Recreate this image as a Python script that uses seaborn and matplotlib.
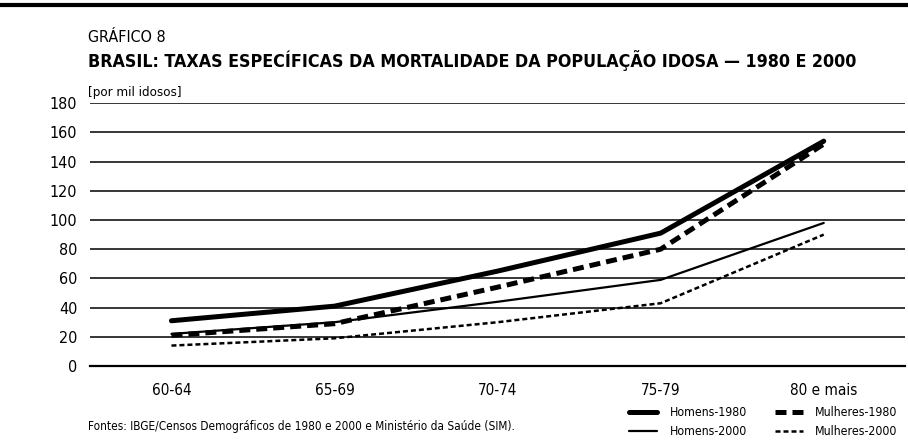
import matplotlib.pyplot as plt
import pandas as pd
import seaborn as sns

faixas = ["60-64", "65-69", "70-74", "75-79", "80 e mais"]
homens_1980 = [31, 41, 65, 91, 154]
mulheres_1980 = [21, 29, 54, 80, 152]
homens_2000 = [22, 30, 44, 59, 98]
mulheres_2000 = [14, 19, 30, 43, 90]

series = {
    "Homens-1980": homens_1980,
    "Mulheres-1980": mulheres_1980,
    "Homens-2000": homens_2000,
    "Mulheres-2000": mulheres_2000,
}
estilos = {
    "Homens-1980": dict(lw=3.6, dashes=None),
    "Mulheres-1980": dict(lw=3.6, dashes=(2.2, 1.2)),
    "Homens-2000": dict(lw=1.6, dashes=None),
    "Mulheres-2000": dict(lw=1.8, dashes=(2.0, 1.2)),
}

df = pd.DataFrame(
    [(nome, i, v) for nome, vals in series.items() for i, v in enumerate(vals)],
    columns=["serie", "pos", "taxa"],
)

sns.set_style("white")
plt.rcParams["font.family"] = ["DejaVu Sans"]
plt.rcParams["font.stretch"] = "condensed"
plt.rcParams["text.color"] = "black"
plt.rcParams["xtick.color"] = "black"
plt.rcParams["ytick.color"] = "black"

fig = plt.figure(figsize=(9.08, 4.41), dpi=100)
ax = fig.add_axes([0.099, 0.170, 0.898, 0.596])

for nome in series:
    sub = df[df["serie"] == nome]
    st = estilos[nome]
    line = sns.lineplot(data=sub, x="pos", y="taxa", ax=ax, color="black",
                        linewidth=st["lw"], label=nome).lines[-1]
    if st["dashes"] is not None:
        line.set_dashes(st["dashes"])

ax.set_xlim(-0.5, 4.5)
ax.set_ylim(0, 180)
ax.set_yticks(range(0, 181, 20))
ax.tick_params(axis="y", length=0, labelsize=11.5, pad=9)
ax.set_xticks([i - 0.5 for i in range(6)])
ax.set_xticklabels([])
ax.set_xticks(range(5), minor=True)
ax.set_xticklabels(faixas, minor=True, fontsize=11)
ax.tick_params(axis="x", which="major", direction="in", length=14, width=1.2, color="black")
ax.tick_params(axis="x", which="minor", length=0, pad=12)
for y in range(20, 181, 20):
    ax.axhline(y, color="black", lw=1.1, zorder=0)
for s in ["top", "right", "left"]:
    ax.spines[s].set_visible(False)
ax.spines["bottom"].set_color("black")
ax.spines["bottom"].set_linewidth(1.6)
ax.set_xlabel("")
ax.set_ylabel("")

handles, labels = ax.get_legend_handles_labels()
order = [0, 2, 1, 3]
ax.legend([handles[i] for i in order], [labels[i] for i in order], ncol=2,
          loc="lower right", bbox_to_anchor=(0.992, 0.0), bbox_transform=fig.transFigure,
          frameon=False, fontsize=8.8, handlelength=2.3, handletextpad=1.0,
          columnspacing=2.3, labelspacing=0.45, borderaxespad=0.0, borderpad=0.25)

fig.add_artist(plt.Line2D([0, 1], [0.988, 0.988], color="black", lw=3))
fig.text(0.097, 0.905, "GRÁFICO 8", fontsize=11.5)
fig.text(0.097, 0.848, "BRASIL: TAXAS ESPECÍFICAS DA MORTALIDADE DA POPULAÇÃO IDOSA — 1980 E 2000",
         fontsize=12.8, fontweight="bold")
fig.text(0.097, 0.782, "[por mil idosos]", fontsize=9.5)
fig.text(0.097, 0.025, "Fontes: IBGE/Censos Demográficos de 1980 e 2000 e Ministério da Saúde (SIM).",
         fontsize=8.5)

fig.savefig("out.png", dpi=100)
